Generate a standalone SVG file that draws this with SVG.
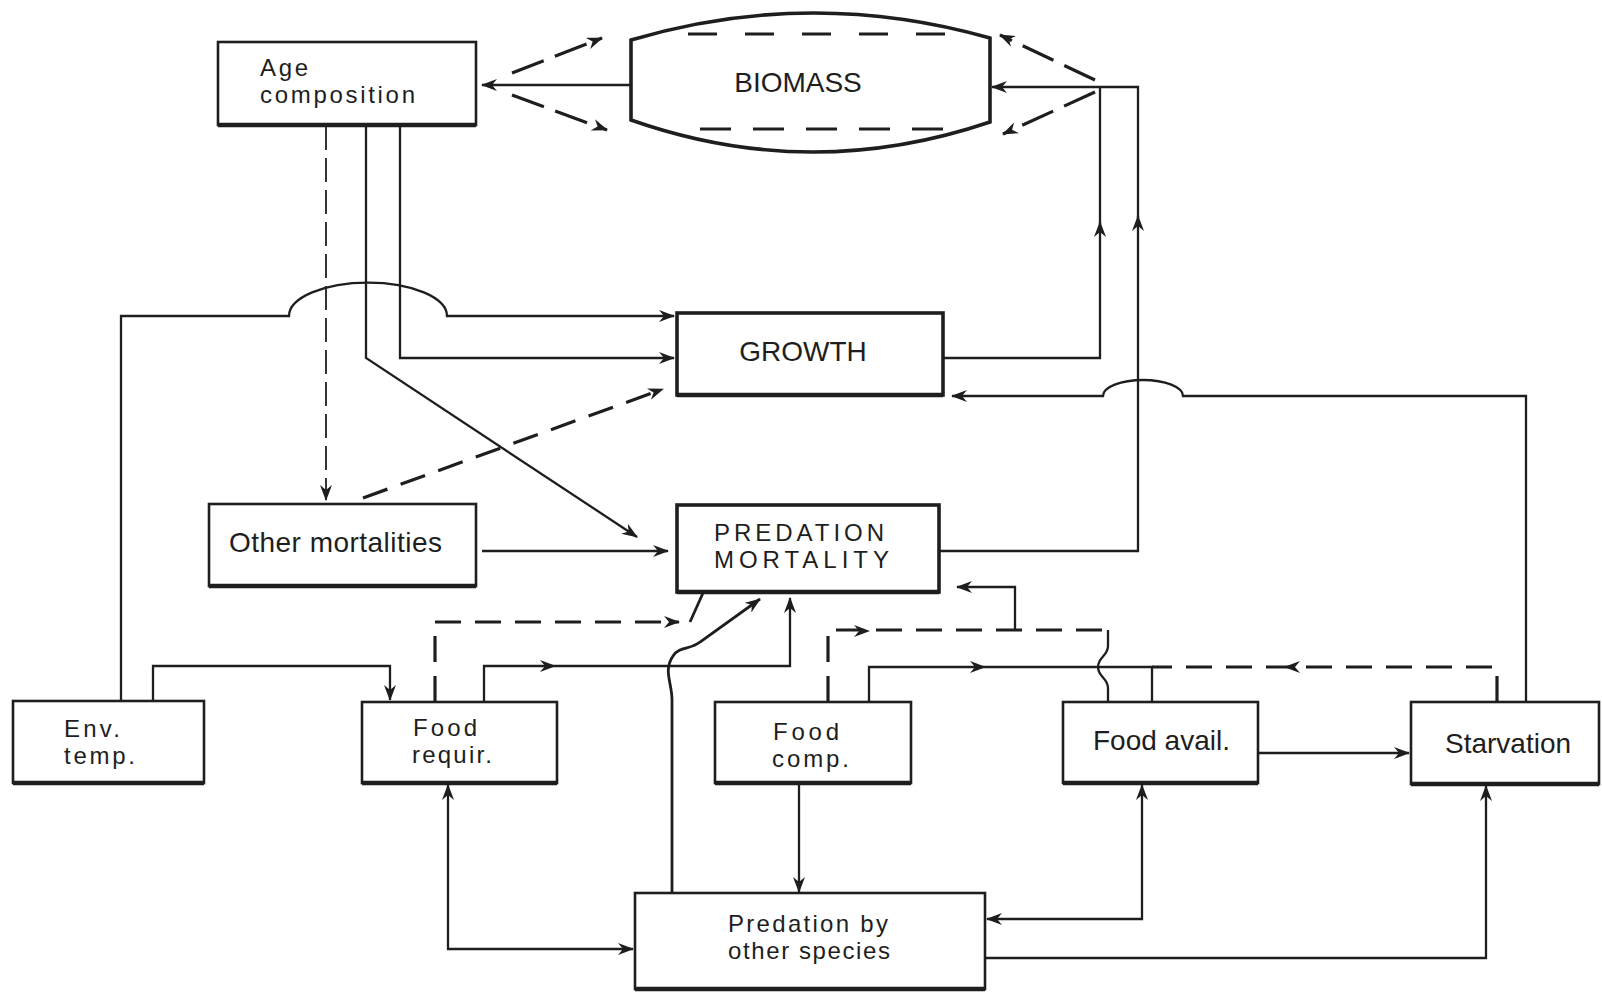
<svg xmlns="http://www.w3.org/2000/svg" xmlns:xlink="http://www.w3.org/1999/xlink" width="1602" height="992" viewBox="0 0 1602 992">
<style>
.box{fill:#fff;stroke:#1e1e1e;stroke-width:2.6}
.thick{stroke-width:3.6}
.bot{stroke:#1e1e1e;stroke-width:4.5;fill:none}
.ln{fill:none;stroke:#1e1e1e;stroke-width:2.3}
.dl{fill:none;stroke:#1e1e1e;stroke-width:3.2;stroke-dasharray:26 14}
.dt{fill:none;stroke:#1e1e1e;stroke-width:1.8;stroke-dasharray:24 8}
text{font-family:"Liberation Sans",Arial,sans-serif;font-size:28px;fill:#1e1e1e}
text.two{font-size:24px}
</style>
<defs>
<marker id="a" viewBox="0 0 16 12" refX="15" refY="6" markerWidth="16" markerHeight="12" markerUnits="userSpaceOnUse" orient="auto-start-reverse">
<path d="M0,0 L16,6 L0,12 L5,6 Z" fill="#1e1e1e"/>
</marker>
<path id="ah" d="M0,0 L-16,-6 L-11,0 L-16,6 Z" fill="#1e1e1e"/>
</defs>
<rect width="1602" height="992" fill="#fff"/>

<g id="node-age">
<rect class="box" x="218" y="42" width="258" height="83"/>
<line class="bot" x1="218" y1="125" x2="476" y2="125"/>
<text class="two" x="260" y="76" textLength="48" lengthAdjust="spacing">Age</text>
<text class="two" x="260" y="103" textLength="155" lengthAdjust="spacing">composition</text>
</g>

<g id="node-biomass">
<path class="box thick" d="M631,40 Q810,-13 990,38 L990,122 Q810,183 631,120 Z"/>
<line x1="688" y1="34" x2="947" y2="34" stroke="#1e1e1e" stroke-width="3.2" stroke-dasharray="29 28"/>
<line x1="700" y1="129" x2="945" y2="129" stroke="#1e1e1e" stroke-width="3.2" stroke-dasharray="31 22"/>
<text x="798" y="92" text-anchor="middle">BIOMASS</text>
</g>

<g id="node-growth">
<rect class="box thick" x="677" y="313" width="266" height="82"/>
<line class="bot" x1="677" y1="395" x2="943" y2="395"/>
<text x="803" y="361" text-anchor="middle">GROWTH</text>
</g>

<g id="node-other">
<rect class="box" x="209" y="504" width="267" height="82"/>
<line class="bot" x1="209" y1="586" x2="476" y2="586"/>
<text x="229" y="552" textLength="213" lengthAdjust="spacing">Other mortalities</text>
</g>

<g id="node-predmort">
<rect class="box thick" x="677" y="505" width="262" height="87"/>
<line class="bot" x1="677" y1="592" x2="939" y2="592"/>
<text class="two" x="714" y="541" textLength="170" lengthAdjust="spacing">PREDATION</text>
<text class="two" x="714" y="568" textLength="175" lengthAdjust="spacing">MORTALITY</text>
</g>

<g id="node-env">
<rect class="box" x="13" y="701" width="191" height="82"/>
<line class="bot" x1="13" y1="783" x2="204" y2="783"/>
<text class="two" x="64" y="737" textLength="56" lengthAdjust="spacing">Env.</text>
<text class="two" x="64" y="764" textLength="71" lengthAdjust="spacing">temp.</text>
</g>

<g id="node-foodreq">
<rect class="box" x="362" y="702" width="195" height="81"/>
<line class="bot" x1="362" y1="783" x2="557" y2="783"/>
<text class="two" x="413" y="736" textLength="64" lengthAdjust="spacing">Food</text>
<text class="two" x="412" y="763" textLength="80" lengthAdjust="spacing">requir.</text>
</g>

<g id="node-foodcomp">
<rect class="box" x="715" y="702" width="196" height="81"/>
<line class="bot" x1="715" y1="783" x2="911" y2="783"/>
<text class="two" x="773" y="740" textLength="66" lengthAdjust="spacing">Food</text>
<text class="two" x="772" y="767" textLength="77" lengthAdjust="spacing">comp.</text>
</g>

<g id="node-foodavail">
<rect class="box" x="1063" y="702" width="195" height="81"/>
<line class="bot" x1="1063" y1="783" x2="1258" y2="783"/>
<text x="1093" y="750">Food avail.</text>
</g>

<g id="node-starvation">
<rect class="box" x="1411" y="702" width="188" height="82"/>
<line class="bot" x1="1411" y1="784" x2="1599" y2="784"/>
<text x="1445" y="753">Starvation</text>
</g>

<g id="node-predother">
<rect class="box" x="635" y="893" width="350" height="96"/>
<line class="bot" x1="635" y1="989" x2="985" y2="989"/>
<text class="two" x="728" y="932" textLength="160" lengthAdjust="spacing">Predation by</text>
<text class="two" x="728" y="959" textLength="162" lengthAdjust="spacing">other species</text>
</g>

<g id="connectors">
<path class="ln" d="M631,85 L482,85" marker-end="url(#a)"/>
<path class="dl" style="stroke-dasharray:34 12" d="M512,73 L602,38" marker-end="url(#a)"/>
<path class="dl" style="stroke-dasharray:34 12" d="M512,95 L607,130" marker-end="url(#a)"/>
<path class="dl" style="stroke-dasharray:34 12" d="M1095,80 L1000,35" marker-end="url(#a)"/>
<path class="dl" style="stroke-dasharray:34 12" d="M1095,92 L1003,134" marker-end="url(#a)"/>

<path class="ln" d="M943,358 L1100,358 L1100,222" marker-end="url(#a)"/>
<path class="ln" d="M1100,224 L1100,87"/>
<path class="ln" d="M939,551 L1138,551 L1138,216" marker-end="url(#a)"/>
<path class="ln" d="M1138,218 L1138,87 L992,87" marker-end="url(#a)"/>

<path class="dt" d="M326,126 L326,500" marker-end="url(#a)"/>
<path class="ln" d="M366,126 L366,358 L637,537" marker-end="url(#a)"/>
<path class="ln" d="M400,126 L400,358 L674,358" marker-end="url(#a)"/>
<path class="ln" d="M121,701 L121,316 L289,316 A78,33 0 0 1 447,316 L674,316" marker-end="url(#a)"/>
<path class="dl" d="M363,498 L663,389" marker-end="url(#a)"/>
<path class="ln" d="M482,551 L668,551" marker-end="url(#a)"/>
<path class="ln" d="M1526,702 L1526,396 L1183,396 A40,16 0 0 0 1103,396 L952,396" marker-end="url(#a)"/>

<path class="ln" d="M153,701 L153,666 L390,666 L390,700" marker-end="url(#a)"/>
<path class="ln" d="M484,702 L484,666 L790,666 L790,598" marker-end="url(#a)"/>
<use xlink:href="#ah" href="#ah" transform="translate(556,666)"/>
<path class="dl" d="M435,702 L435,622 L679,622" marker-end="url(#a)"/>
<path class="ln" style="stroke-width:2.8" d="M690,622 L703,593"/>
<path class="ln" style="stroke-width:2.8" d="M672,893 L672,700 C672,682 663,671 673,656 C680,646 690,650 700,642 L760,599" marker-end="url(#a)"/>

<path class="dl" d="M828,702 L828,630 L1108,630"/>
<use xlink:href="#ah" href="#ah" transform="translate(870,631)"/>
<path class="ln" d="M1015,630 L1015,587 L957,587" marker-end="url(#a)"/>
<path class="ln" d="M1108,702 L1108,688 C1108,678 1098,677 1098,667 C1098,657 1108,656 1108,646 L1108,630"/>
<path class="ln" d="M869,702 L869,667 L1152,667 L1152,702"/>
<use xlink:href="#ah" href="#ah" transform="translate(986,667)"/>
<path class="dl" d="M1497,702 L1497,667 L1152,667"/>
<use xlink:href="#ah" href="#ah" transform="translate(1284,667) rotate(180)"/>

<path class="ln" d="M1258,753 L1409,753" marker-end="url(#a)"/>
<path class="ln" d="M799,783 L799,892" marker-end="url(#a)"/>
<path class="ln" d="M448,785 L448,949 L633,949" marker-start="url(#a)" marker-end="url(#a)"/>
<path class="ln" d="M1142,785 L1142,919 L987,919" marker-start="url(#a)" marker-end="url(#a)"/>
<path class="ln" d="M985,958 L1486,958 L1486,786" marker-end="url(#a)"/>
</g>
</svg>
